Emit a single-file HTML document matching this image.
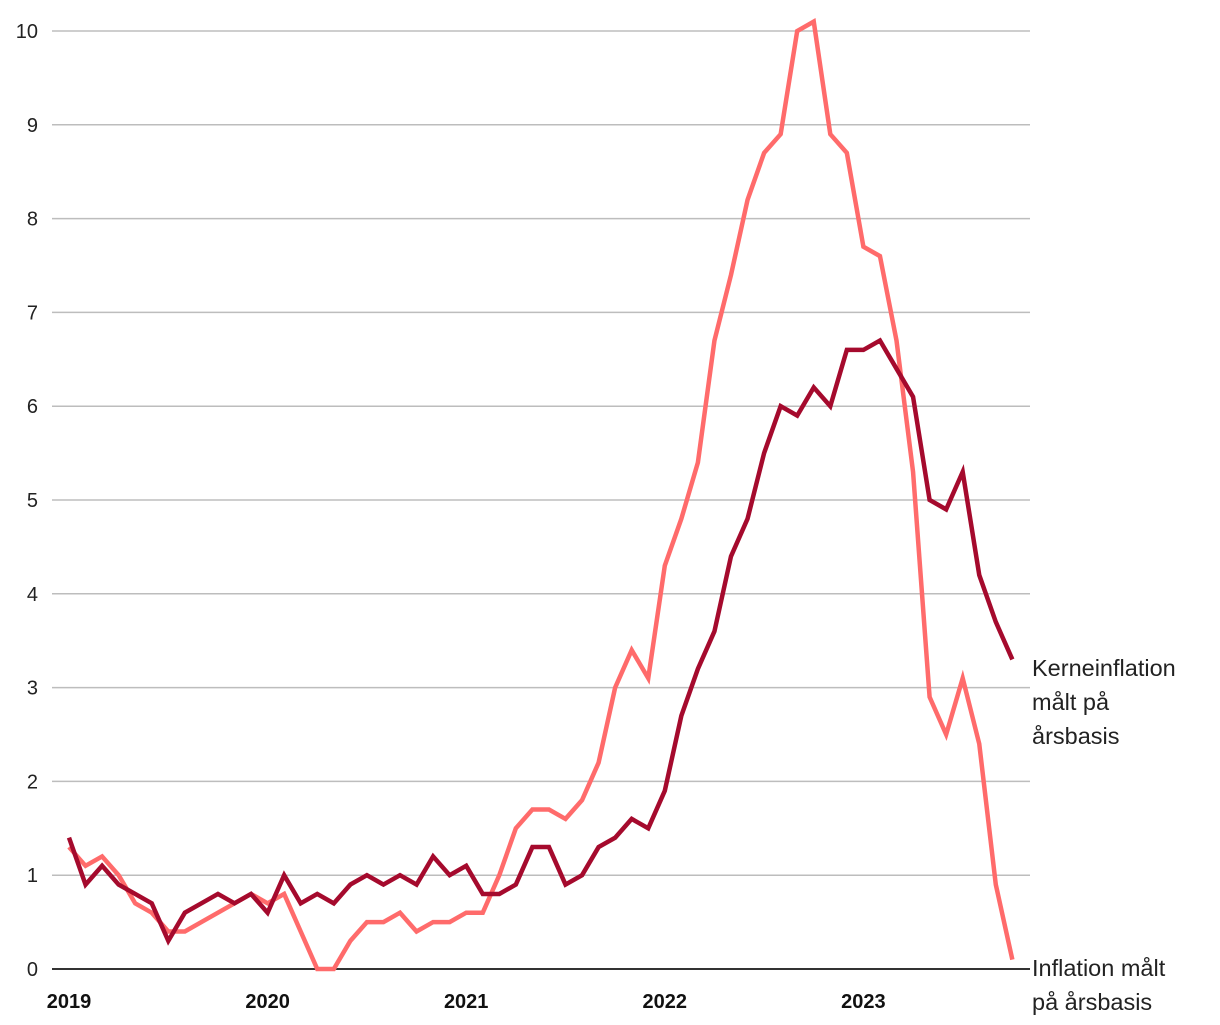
<!DOCTYPE html>
<html><head><meta charset="utf-8"><style>
body{margin:0;background:#fff;width:1220px;height:1020px;overflow:hidden}
svg text{font-family:"Liberation Sans",sans-serif}
</style></head><body>
<svg id="chart" width="1220" height="1020" viewBox="0 0 1220 1020"></svg>
<script>
const yTicks=[0,1,2,3,4,5,6,7,8,9,10];
const yearLabels=["2019","2020","2021","2022","2023"];
const inflation=[1.3,1.1,1.2,1.0,0.7,0.6,0.4,0.4,0.5,0.6,0.7,0.8,0.7,0.8,0.4,0.0,0.0,0.3,0.5,0.5,0.6,0.4,0.5,0.5,0.6,0.6,1.0,1.5,1.7,1.7,1.6,1.8,2.2,3.0,3.4,3.1,4.3,4.8,5.4,6.7,7.4,8.2,8.7,8.9,10.0,10.1,8.9,8.7,7.7,7.6,6.7,5.3,2.9,2.5,3.1,2.4,0.9,0.1];
const coreInflation=[1.4,0.9,1.1,0.9,0.8,0.7,0.3,0.6,0.7,0.8,0.7,0.8,0.6,1.0,0.7,0.8,0.7,0.9,1.0,0.9,1.0,0.9,1.2,1.0,1.1,0.8,0.8,0.9,1.3,1.3,0.9,1.0,1.3,1.4,1.6,1.5,1.9,2.7,3.2,3.6,4.4,4.8,5.5,6.0,5.9,6.2,6.0,6.6,6.6,6.7,6.4,6.1,5.0,4.9,5.3,4.2,3.7,3.3];
const NS="http://www.w3.org/2000/svg";
const svg=document.getElementById('chart');
const x=i=>69+i*16.55;
const y=v=>969-v*93.8;
function mk(tag,attrs,parent){const e=document.createElementNS(NS,tag);for(const k in attrs)e.setAttribute(k,attrs[k]);(parent||svg).appendChild(e);return e;}
yTicks.forEach(t=>{
  if(t>0){const g=mk('line',{x1:52,x2:1030,y1:y(t),y2:y(t),stroke:'#bdbdbd','stroke-width':1.5});
  
  }
  const l=mk('text',{x:38,y:y(t)+7,'text-anchor':'end','font-size':20,fill:'#222'});
  l.textContent=t;
  
  
});
const ax=mk('line',{x1:52,x2:1030,y1:y(0),y2:y(0),stroke:'#333','stroke-width':2});


yearLabels.forEach((yr,k)=>{
  const l=mk('text',{x:x(k*12),y:1008,'text-anchor':'middle','font-size':20,'font-weight':'bold',fill:'#111'});
  l.textContent=yr;
  
  
});
function line(data,color,name){
  const p=mk('polyline',{points:data.map((v,i)=>x(i)+','+y(v)).join(' '),fill:'none',stroke:color,'stroke-width':4.5,'stroke-linejoin':'miter'});
  
  
}
line(inflation,'#ff6b6b','inflation-line');
line(coreInflation,'#a50a2d','core-inflation-line');
function label(lines,y0,name){
  const t=mk('text',{x:1032,y:y0,'font-size':23.5,fill:'#222'});
  
  
  lines.forEach((s,i)=>{const ts=mk('tspan',{x:1032,dy:i?34:0},t);ts.textContent=s;});
}
label(["Kerneinflation","målt på","årsbasis"],676,'core-inflation-label');
label(["Inflation målt","på årsbasis"],976,'inflation-label');
</script>
</body></html>
